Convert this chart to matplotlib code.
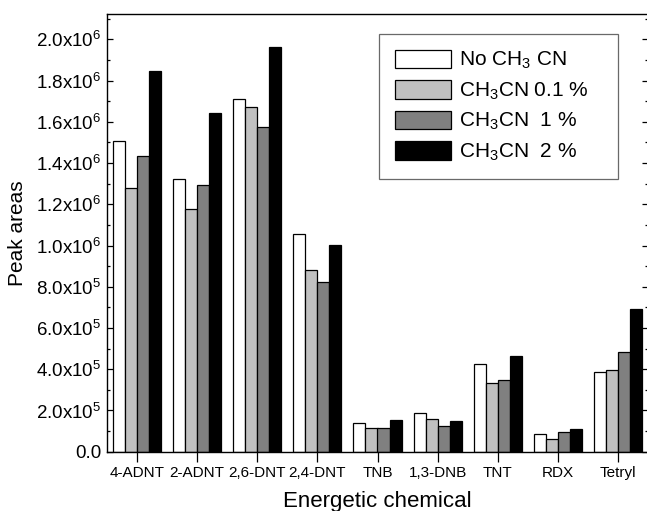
import matplotlib
matplotlib.use("Agg")
import matplotlib.pyplot as plt
import numpy as np
from matplotlib.ticker import MultipleLocator, FuncFormatter

plt.rcParams['font.family'] = ['Liberation Sans', 'DejaVu Sans']
plt.rcParams['mathtext.fontset'] = 'custom'
plt.rcParams['mathtext.rm'] = 'Liberation Sans'
plt.rcParams['mathtext.it'] = 'Liberation Sans:italic'
plt.rcParams['mathtext.bf'] = 'Liberation Sans:bold'

categories = ['4-ADNT', '2-ADNT', '2,6-DNT', '2,4-DNT', 'TNB', '1,3-DNB', 'TNT', 'RDX', 'Tetryl']
series_labels = ['No CH$_3$ CN', 'CH$_3$CN 0.1 %', 'CH$_3$CN  1 %', 'CH$_3$CN  2 %']
no_ch3cn  = [1.507e6, 1.321e6, 1.710e6, 1.054e6, 0.138e6, 0.186e6, 0.427e6, 0.084e6, 0.387e6]
ch3cn_01  = [1.277e6, 1.176e6, 1.670e6, 0.881e6, 0.116e6, 0.157e6, 0.335e6, 0.063e6, 0.395e6]
ch3cn_1   = [1.436e6, 1.293e6, 1.575e6, 0.822e6, 0.116e6, 0.126e6, 0.349e6, 0.096e6, 0.482e6]
ch3cn_2   = [1.848e6, 1.644e6, 1.964e6, 1.001e6, 0.152e6, 0.147e6, 0.464e6, 0.109e6, 0.691e6]
series = [no_ch3cn, ch3cn_01, ch3cn_1, ch3cn_2]
colors = ['#ffffff', '#c0c0c0', '#808080', '#000000']

fig = plt.figure(figsize=(6.47, 5.11), dpi=100)
ax = fig.add_axes([107/647, 1 - 451.7/511, 541/647, (451.7 - 14)/511])

x = np.arange(len(categories))
w = 0.2
for i, (vals, c, lab) in enumerate(zip(series, colors, series_labels)):
    ax.bar(x + (i - 1.5) * w, vals, width=w, color=c, edgecolor='black',
           linewidth=0.9, label=lab)

ax.set_xlim(-0.5, len(categories) - 0.5)
ax.set_ylim(0, 2.123e6)
ax.set_xticks(x)
ax.set_xticklabels(categories, fontsize=11)
ax.yaxis.set_major_locator(MultipleLocator(2e5))
ax.yaxis.set_minor_locator(MultipleLocator(1e5))

def fmt(v, pos):
    if v <= 1e-6:
        return '0.0'
    e = int(np.floor(np.log10(v) + 1e-9))
    m = v / 10**e
    return '%.1fx10$^{%d}$' % (m, e)

ax.yaxis.set_major_formatter(FuncFormatter(fmt))
ax.tick_params(axis='y', which='both', direction='in', left=True, right=True, labelsize=13.5)
ax.tick_params(axis='y', which='major', length=4.5, width=0.9, pad=4)
ax.tick_params(axis='y', which='minor', length=2.5, width=0.9)
ax.tick_params(axis='x', which='major', direction='out', length=7, width=0.9, pad=3)
ax.tick_params(axis='x', which='minor', bottom=False)
for s in ax.spines.values():
    s.set_linewidth(1.0)

ax.set_ylabel('Peak areas', fontsize=15, labelpad=7)
ax.set_xlabel('Energetic chemical', fontsize=16, labelpad=8)

leg = ax.legend(loc='upper left', bbox_to_anchor=(0.5028, 0.9543 - 0.33, 0.4417, 0.33),
                mode='expand', borderaxespad=0,
                fontsize=15, frameon=True, fancybox=False, handlelength=2.7,
                handleheight=1.0, labelspacing=0.42, handletextpad=0.4,
                borderpad=0.75)
leg.get_frame().set_edgecolor('#444444')
leg.get_frame().set_linewidth(0.9)

fig.savefig('out.png', dpi=100)
